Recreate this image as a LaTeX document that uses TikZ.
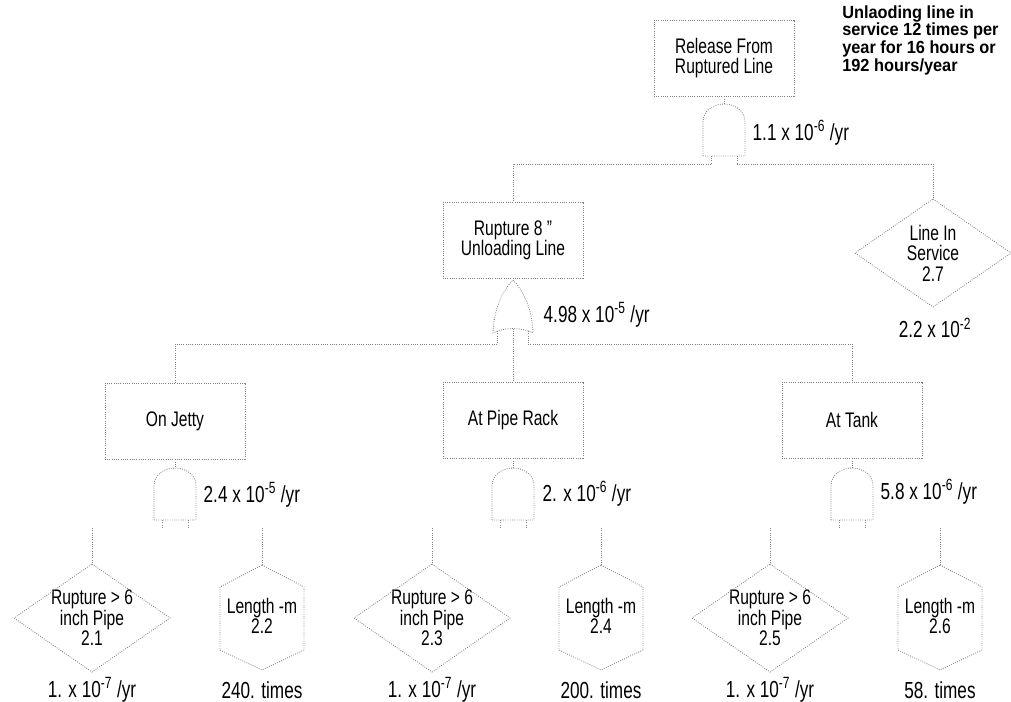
\documentclass[tikz,border=0pt]{standalone}
\usepackage{fontspec}
\setmainfont{Liberation Sans}[FakeStretch=0.74]
\newfontfamily\notefont{Liberation Sans}[FakeStretch=0.93]
\usetikzlibrary{positioning}

\begin{document}
\begin{tikzpicture}[x=0.025cm, y=-0.025cm,
  line/.style={draw=black!50, line width=0.6pt, densely dotted},
  event/.style={line, rectangle, minimum width=3.5cm, minimum height=1.9cm, align=center, font=\fontsize{15}{14}\selectfont},
  leaftext/.style={align=center, inner sep=0pt, font=\fontsize{15}{14.5}\selectfont},
  rate/.style={inner sep=1pt, font=\fontsize{16.5}{16.5}\selectfont},
  notetext/.style={align=left, inner sep=0pt, font=\notefont\bfseries\fontsize{12.5}{11.4}\selectfont},
  andgate/.pic={
    \draw[line] (-21,52) -- (-21,18) .. controls (-21,6) and (-10,0) .. (0,0) coordinate (-in)
      .. controls (10,0) and (21,6) .. (21,18) -- (21,52) -- cycle;
    \draw[line] (-13,52) -- (-13,60) coordinate (-l);
    \draw[line] (13,52) -- (13,60) coordinate (-r);
  },
  orgate/.pic={
    \draw[line] (0,0) coordinate (-in) .. controls (8,8) and (19,25) .. (20,53)
      .. controls (8,47) and (-8,47) .. (-20,53) .. controls (-19,25) and (-8,8) .. (0,0) -- cycle;
    \draw[line] (-16,51) -- (-16,64) coordinate (-l);
    \draw[line] (15,51) -- (15,64) coordinate (-r);
    \coordinate (-m) at (0,48.5);
  },
  basicleaf/.pic={
    \node[leaftext] (-t) at (0,0) {#1};
    \draw[line] (0,-54) coordinate (-n) -- (78,0) -- (0,54) -- (-78,0) -- cycle;
    \coordinate (-c) at (0,-90);
  },
  hexleaf/.pic={
    \node[leaftext] (-t) at (0,-2) {#1};
    \draw[line] (0,-53) coordinate (-n) -- (42,-31) -- (42,32) -- (0,52) -- (-42,32) -- (-42,-31) -- cycle;
    \coordinate (-c) at (0,-90);
  }]
  \useasboundingbox (0,0) rectangle (1011,702);

  % Top event
  \node[event] (rel) at (724,58) {Release From\\Ruptured Line};
  \node[notetext, anchor=north west] (note) at (842,5) {Unlaoding line in\\service 12 times per\\year for 16 hours or\\192 hours/year};
  \pic (g0) at (724,104) {andgate};
  \node[rate, anchor=west] (r0) at (751,133) {1.1 x 10\textsuperscript{-6} /yr};

  % Second level
  \node[event] (rup) at (513,240) {Rupture 8 "\\Unloading Line};
  \pic (svc) at (933,253) {basicleaf={Line In\\Service\\2.7}};
  \node[rate] (q0) at (935,328) {2.2 x 10\textsuperscript{-2}};
  \pic (g1) at (513,280) {orgate};
  \node[rate, anchor=west] (r1) at (542,315) {4.98 x 10\textsuperscript{-5} /yr};

  % Locations
  \node[event] (jet) at (175,421) {On Jetty};
  \node[event] (rack) at (513,420) {At Pipe Rack};
  \node[event] (tank) at (852,420) {At Tank};

  \pic (g2) at (175,468) {andgate};
  \node[rate, anchor=west] (r2) at (202,495) {2.4 x 10\textsuperscript{-5} /yr};
  \pic (g3) at (513,468) {andgate};
  \node[rate, anchor=west] (r3) at (541,494) {2. x 10\textsuperscript{-6} /yr};
  \pic (g4) at (852,468) {andgate};
  \node[rate, anchor=west] (r4) at (879,492) {5.8 x 10\textsuperscript{-6} /yr};

  % Basic events
  \pic (p1) at (92,618) {basicleaf={Rupture > 6\\inch Pipe\\2.1}};
  \pic (m1) at (262,618) {hexleaf={Length -m\\2.2}};
  \pic (p2) at (432,618) {basicleaf={Rupture > 6\\inch Pipe\\2.3}};
  \pic (m2) at (601,618) {hexleaf={Length -m\\2.4}};
  \pic (p3) at (770,618) {basicleaf={Rupture > 6\\inch Pipe\\2.5}};
  \pic (m3) at (940,618) {hexleaf={Length -m\\2.6}};

  \node[rate] (f1) at (92,690) {1. x 10\textsuperscript{-7} /yr};
  \node[rate] (n1) at (262,690) {240. times};
  \node[rate] (f2) at (432,690) {1. x 10\textsuperscript{-7} /yr};
  \node[rate] (n2) at (601,690) {200. times};
  \node[rate] (f3) at (770,690) {1. x 10\textsuperscript{-7} /yr};
  \node[rate] (n3) at (940,690) {58. times};

  % Connections
  \draw[line] (rel.south) -- (g0-in);
  \draw[line] (g0-l) -| (rup.north);
  \draw[line] (g0-r) -| (svc-n);
  \draw[line] (rup.south) -- (g1-in);
  \draw[line] (g1-l) -| (jet.north);
  \draw[line] (g1-r) -| (tank.north);
  \draw[line] (g1-m) -- (rack.north);
  \draw[line] (jet.south) -- (g2-in);
  \draw[line] (rack.south) -- (g3-in);
  \draw[line] (tank.south) -- (g4-in);
  \foreach \leaf in {p1,m1,p2,m2,p3,m3}
    \draw[line] (\leaf-c) -- (\leaf-n);
\end{tikzpicture}
\end{document}
